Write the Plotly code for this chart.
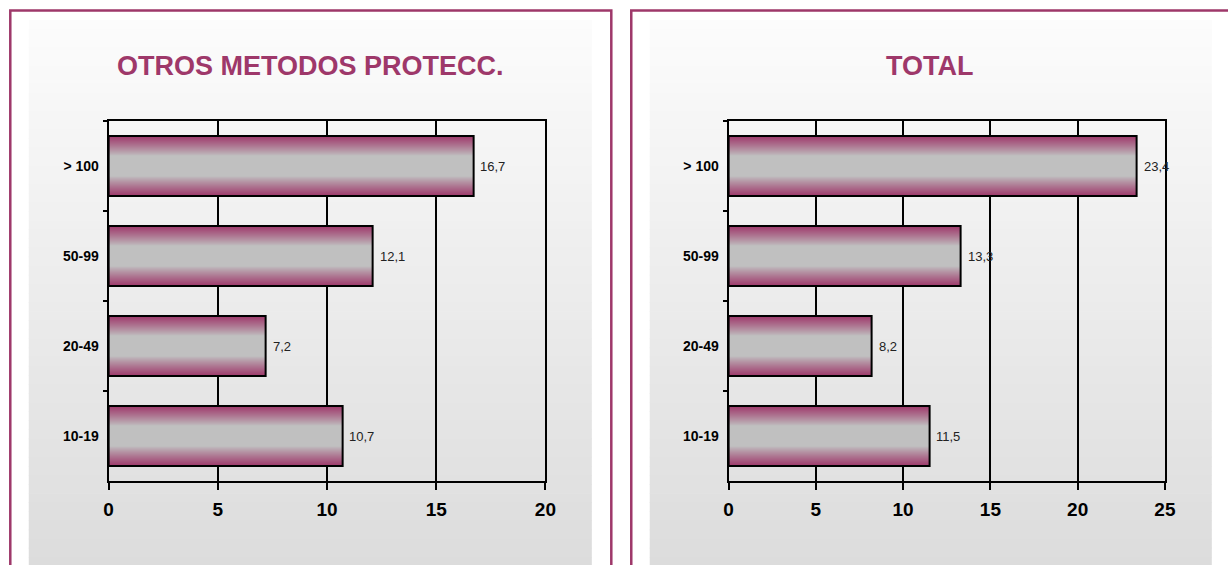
import plotly.graph_objects as go
from plotly.subplots import make_subplots

# ---- data ----
categories = ["10-19", "20-49", "50-99", "> 100"]
otros_values = [10.7, 7.2, 12.1, 16.7]
total_values = [11.5, 8.2, 13.3, 23.4]
titles = ["OTROS METODOS PROTECC.", "TOTAL"]
x_max = [20, 25]
x_tick_step = 5

# ---- style ----
W, H = 1228, 565
FONT = "Arial, Liberation Sans, sans-serif"
MAROON = (158, 56, 106)
GRAY = (192, 192, 192)
BAR_W = 0.668
N_LAYERS = 30

# horizontal correction for the observed rendering
SX_A, SX_B = 0.9886, 4.2


def px_x(x):
    return ((x - SX_B) / SX_A) / W


def px_y(y):
    return 1 - y / H


def grad_color(d):
    # d: normalized distance from bar centre (0 centre, 1 edge)
    if d <= 0.34:
        t = 0.0
    else:
        t = ((d - 0.34) / 0.66) ** 0.9
    c = [round(GRAY[i] * (1 - t) + MAROON[i] * t) for i in range(3)]
    return f"rgb({c[0]},{c[1]},{c[2]})"


fig = make_subplots(rows=1, cols=2, horizontal_spacing=0.05)

panels = [otros_values, total_values]
for p, vals in enumerate(panels):
    col = p + 1
    for k in range(N_LAYERS):
        frac = 1 - k / N_LAYERS
        d = 1 - (k + 0.5) / N_LAYERS
        fig.add_trace(
            go.Bar(
                x=vals, y=categories, orientation="h",
                width=BAR_W * frac,
                marker=dict(color=grad_color(d), line=dict(width=0)),
                hoverinfo="skip", showlegend=False,
            ),
            row=1, col=col,
        )
    # outline
    fig.add_trace(
        go.Bar(
            x=vals, y=categories, orientation="h", width=BAR_W,
            marker=dict(color="rgba(0,0,0,0)", line=dict(color="black", width=2)),
            hoverinfo="skip", showlegend=False,
        ),
        row=1, col=col,
    )

fig.update_layout(barmode="overlay", bargap=0)

# domains
dom_x = [[px_x(108), px_x(545.5)], [px_x(729), px_x(1166)]]
dom_y = [px_y(481), px_y(121)]

for p in range(2):
    xa = "xaxis" if p == 0 else "xaxis2"
    ya = "yaxis" if p == 0 else "yaxis2"
    fig.layout[xa].update(
        domain=dom_x[p], range=[0, x_max[p]], dtick=x_tick_step, tick0=0,
        showgrid=True, gridcolor="black", gridwidth=2,
        showline=True, linecolor="black", linewidth=2, mirror=True,
        ticks="outside", ticklen=7, tickwidth=2, tickcolor="black",
        zeroline=False,
        tickfont=dict(family=FONT, size=19, color="black", weight="bold"),
        ticklabelstandoff=3,
    )
    fig.layout[ya].update(
        domain=dom_y, type="category", categoryorder="array",
        categoryarray=categories, range=[-0.5, 3.5],
        showgrid=False, showline=True, linecolor="black", linewidth=2, mirror=True,
        ticks="outside", ticklen=4, tickwidth=2, tickcolor="black",
        tickson="boundaries", zeroline=False,
        tickfont=dict(family=FONT, size=14, color="black", weight="bold"),
        ticklabelstandoff=5,
    )

# data labels
annotations = []
for p, vals in enumerate(panels):
    xr = "x" if p == 0 else "x2"
    yr = "y" if p == 0 else "y2"
    for c, v in zip(categories, vals):
        annotations.append(dict(
            x=v, y=c, xref=xr, yref=yr, text=f"{v:.1f}".replace(".", ","),
            showarrow=False, xanchor="left", xshift=5,
            font=dict(family=FONT, size=13, color="#222"),
        ))

# titles
title_x = [310, 931]
for p in range(2):
    annotations.append(dict(
        x=px_x(title_x[p]), y=px_y(66), xref="paper", yref="paper",
        text=f"<b>{titles[p]}</b>", showarrow=False,
        xanchor="center", yanchor="middle",
        font=dict(family=FONT, size=27, color="rgb(158,56,106)"),
    ))

# backgrounds (gradient) and borders
shapes = []
panel_inner = [(28, 592), (650, 1213)]
N_STRIPS = 60
top, bottom = 20, 566
c_top, c_bot = 252, 220
for (x0, x1) in panel_inner:
    for s in range(N_STRIPS):
        y0 = top + (bottom - top) * s / N_STRIPS
        y1 = top + (bottom - top) * (s + 1) / N_STRIPS + 0.6
        g = round(c_top + (c_bot - c_top) * (s + 0.5) / N_STRIPS)
        shapes.append(dict(
            type="rect", xref="paper", yref="paper",
            x0=px_x(x0), x1=px_x(x1), y0=px_y(y1), y1=px_y(y0),
            fillcolor=f"rgb({g},{g},{g})", line=dict(width=0), layer="below",
        ))

borders = [(9.5, 611.5), (631.5, 1245)]
for (x0, x1) in borders:
    shapes.append(dict(
        type="rect", xref="paper", yref="paper",
        x0=px_x(x0), x1=px_x(x1), y0=px_y(580), y1=px_y(10.5),
        fillcolor="rgba(0,0,0,0)", line=dict(color="rgb(158,56,106)", width=2.5),
        layer="below",
    ))

fig.update_layout(
    width=W, height=H, autosize=False, margin=dict(l=0, r=0, t=0, b=0),
    paper_bgcolor="white", plot_bgcolor="rgba(0,0,0,0)",
    shapes=shapes, annotations=annotations, showlegend=False,
    font=dict(family=FONT),
)

fig.write_html(
    "out.html",
    config={"responsive": False, "displayModeBar": False},
    post_script="document.body.style.margin='0';document.body.style.overflow='hidden';",
)
